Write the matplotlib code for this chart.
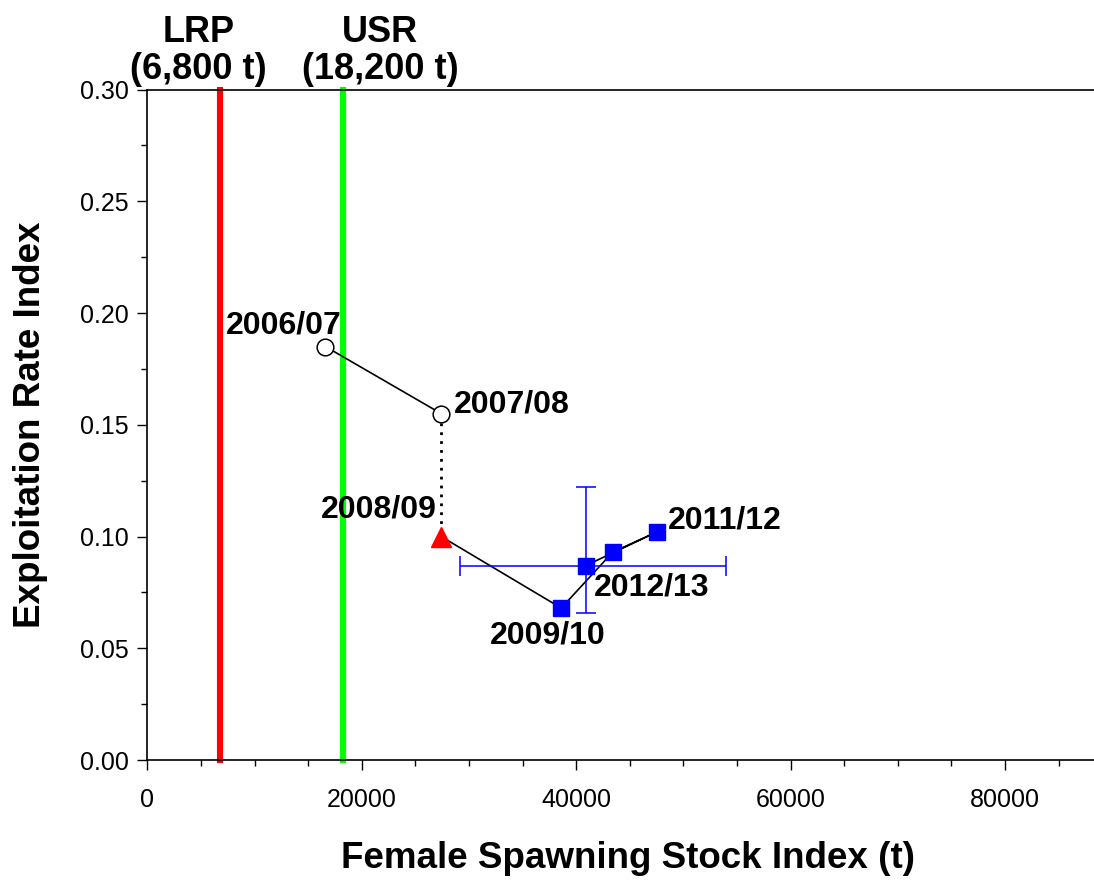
import matplotlib
matplotlib.use("Agg")
import matplotlib.pyplot as plt
from matplotlib.ticker import MultipleLocator, FormatStrFormatter

plt.rcParams['font.family'] = ['Liberation Sans', 'DejaVu Sans']

# survey years and index values
seasons = ["2006/07", "2007/08", "2008/09", "2009/10", "2010/11", "2011/12", "2012/13"]
spawning_stock = [16600, 27400, 27400, 38600, 43400, 47500, 40900]
exploitation = [0.185, 0.155, 0.100, 0.068, 0.093, 0.102, 0.087]

# confidence range for the latest year
latest_x_range = [29200, 54000]
latest_y_range = [0.066, 0.122]

lrp = 6800
usr = 18200

fig = plt.figure(figsize=(10.94, 8.82), dpi=100)
ax = fig.add_axes([0.1348, 0.1383, 0.8652, 0.7602])

ax.set_xlim(0, 88300)
ax.set_ylim(0, 0.30)

# reference points
ax.plot([lrp, lrp], [0, 0.30], color='#ff0000', lw=4.4,
        solid_capstyle='projecting', clip_on=False, zorder=2)
ax.plot([usr, usr], [0, 0.30], color='#00ff00', lw=4.4,
        solid_capstyle='projecting', clip_on=False, zorder=2)

ax.annotate("LRP\n(6,800 t)", xy=(lrp, 0.30), xytext=(-16, 2),
            textcoords='offset points', ha='center', va='bottom',
            fontsize=26, fontweight='bold', linespacing=1.05,
            annotation_clip=False)
ax.annotate("USR\n(18,200 t)", xy=(usr, 0.30), xytext=(27, 2),
            textcoords='offset points', ha='center', va='bottom',
            fontsize=26, fontweight='bold', linespacing=1.05,
            annotation_clip=False)

# trajectory: solid for the old survey, dotted link, solid for the new survey
ax.plot(spawning_stock[:2], exploitation[:2], color='black', lw=1.2, zorder=3)
ax.plot(spawning_stock[1:3], exploitation[1:3], color='black', lw=2,
        ls=(0, (1, 2.2)), zorder=3)
ax.plot(spawning_stock[2:], exploitation[2:], color='black', lw=1.2, zorder=3)

# error bars on 2012/13
xe = spawning_stock[-1]
ye = exploitation[-1]
ax.errorbar([xe], [ye],
            xerr=[[xe - latest_x_range[0]], [latest_x_range[1] - xe]],
            yerr=[[ye - latest_y_range[0]], [latest_y_range[1] - ye]],
            fmt='none', ecolor='#0000ff', elinewidth=1.1, capsize=7.5,
            capthick=1.1, zorder=4)

ax.plot(spawning_stock[:2], exploitation[:2], 'o', ms=12, mfc='white',
        mec='black', mew=1.1, zorder=5)
ax.plot(spawning_stock[2], exploitation[2], '^', ms=14, color='#ff0000',
        zorder=5)
ax.plot(spawning_stock[3:], exploitation[3:], 's', ms=11, color='#0000ff',
        zorder=5)

# year labels: (index, dx, dy, ha)
label_spec = [
    (0, 12, 15, 'right'),
    (1, 9, 6.5, 'left'),
    (2, -3.5, 19.5, 'right'),
    (3, -10, -20, 'center'),
    (6, 6, -16, 'left'),
    (5, 8, 8.5, 'left'),
]
for i, dx, dy, ha in label_spec:
    ax.annotate(seasons[i], xy=(spawning_stock[i], exploitation[i]),
                xytext=(dx, dy), textcoords='offset points', ha=ha,
                va='center', fontsize=23, fontweight='bold', zorder=6)

# axes styling
ax.spines['right'].set_visible(False)
for s in ('left', 'bottom', 'top'):
    ax.spines[s].set_linewidth(1.2)

ax.xaxis.set_major_locator(MultipleLocator(20000))
ax.xaxis.set_minor_locator(MultipleLocator(5000))
ax.yaxis.set_major_locator(MultipleLocator(0.05))
ax.yaxis.set_minor_locator(MultipleLocator(0.025))
ax.yaxis.set_major_formatter(FormatStrFormatter('%.2f'))

ax.tick_params(which='major', direction='out', length=7.5, width=1,
               labelsize=18, top=False, right=False)
ax.tick_params(which='minor', direction='out', length=4.5, width=1,
               top=False, right=False)
ax.tick_params(axis='x', which='major', pad=13)
ax.tick_params(axis='y', which='major', pad=6)

ax.set_xlabel("Female Spawning Stock Index (t)", fontsize=26.5,
              fontweight='bold', va='center')
ax.set_ylabel("Exploitation Rate Index", fontsize=26.5,
              fontweight='bold', va='center')
ax.xaxis.set_label_coords((628 - 147.8) / 946.2, -(858 - 760) / 670.5)
ax.yaxis.set_label_coords(-(147.8 - 31) / 946.2, (760 - 425) / 670.5)

fig.savefig("out.png", dpi=100)
